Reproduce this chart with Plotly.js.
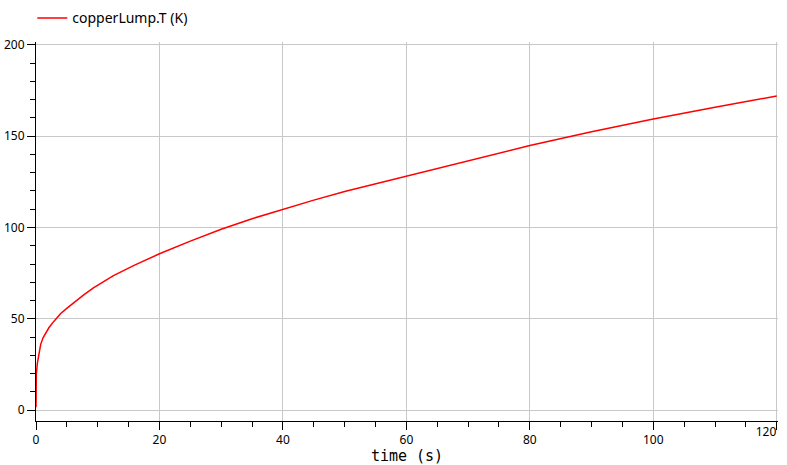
<!DOCTYPE html>
<html>
<head>
<meta charset="utf-8">
<script src="https://cdn.plot.ly/plotly-3.0.1.min.js"></script>
<style>html,body{margin:0;padding:0;background:#fff;}</style>
</head>
<body>
<div id="chart" style="width:787px;height:465px;"></div>
<script>
const timeS = [0, 0.05, 0.22, 0.49, 0.76, 1.14, 1.57, 2.11, 2.92, 4.0, 5.08, 6.17, 7.68, 9.3, 12.55, 15.8, 20, 25, 30, 35, 40, 45, 50, 60, 70, 80, 90, 100, 110, 120];
const copperT = [1.5, 19.6, 25.6, 31.4, 36.0, 39.6, 42.4, 45.2, 48.7, 52.9, 56.0, 59.1, 62.9, 66.9, 73.6, 79.1, 85.6, 92.5, 99.0, 104.8, 110.1, 115.0, 119.7, 128.2, 136.8, 144.9, 152.4, 159.4, 165.9, 172.0];
const xTicks = [0, 20, 40, 60, 80, 100];
const xLastTick = [120];
const yTicks = [0, 50, 100, 150, 200];
const xRange = [0, 120.2];

const trace = {
  x: timeS, y: copperT, type: 'scatter', mode: 'lines',
  name: 'copperLump.T (K)',
  line: {color: '#ff0000', width: 1.5, shape: 'linear'}
};
const helper = {x: [], y: [], type: 'scatter', mode: 'lines', xaxis: 'x2', showlegend: false, hoverinfo: 'skip'};

const layout = {
  width: 787, height: 465,
  paper_bgcolor: '#ffffff', plot_bgcolor: '#ffffff',
  margin: {l: 36, r: 9, t: 42, b: 44},
  font: {family: 'Noto Sans, sans-serif', size: 12, color: '#000'},
  showlegend: true,
  legend: {orientation: 'h', x: 28, xref: 'paper', xanchor: 'left', y: 0.995, yref: 'container', yanchor: 'top', font: {size: 14}, bgcolor: 'rgba(0,0,0,0)'},
  xaxis: {
    range: xRange, tickvals: xTicks, ticktext: xTicks.map(String),
    showgrid: true, gridcolor: '#c8c8c8', gridwidth: 1,
    showline: true, linecolor: '#000', linewidth: 1,
    ticks: 'outside', ticklen: 8, tickcolor: '#000',
    zeroline: false,
    minor: {dtick: 5, tick0: 0, ticklen: 5, tickcolor: '#000', ticks: 'outside', showgrid: false},
    tickfont: {size: 12},
    title: {text: 'time (s)', font: {family: 'DejaVu Sans Mono, monospace', size: 15}, standoff: 3}
  },
  xaxis2: {
    overlaying: 'x', anchor: 'y', side: 'bottom',
    range: xRange, tickvals: xLastTick, ticktext: xLastTick.map(String),
    showgrid: true, gridcolor: '#c8c8c8', gridwidth: 1,
    showline: false, zeroline: false,
    ticks: 'outside', ticklen: 8, tickcolor: '#000',
    ticklabelposition: 'outside left',
    tickfont: {size: 12}
  },
  yaxis: {
    range: [-6.0, 201.6], tickvals: yTicks, ticktext: yTicks.map(String),
    showgrid: true, gridcolor: '#c8c8c8', gridwidth: 1,
    showline: true, linecolor: '#000', linewidth: 1,
    ticks: 'outside', ticklen: 8, tickcolor: '#000',
    zeroline: false,
    minor: {dtick: 10, tick0: 0, ticklen: 5, tickcolor: '#000', ticks: 'outside', showgrid: false},
    tickfont: {size: 12}
  }
};
layout.legend.x = -0.005;

Plotly.newPlot('chart', [trace, helper], layout, {displayModeBar: false, staticPlot: true});
</script>
</body>
</html>
